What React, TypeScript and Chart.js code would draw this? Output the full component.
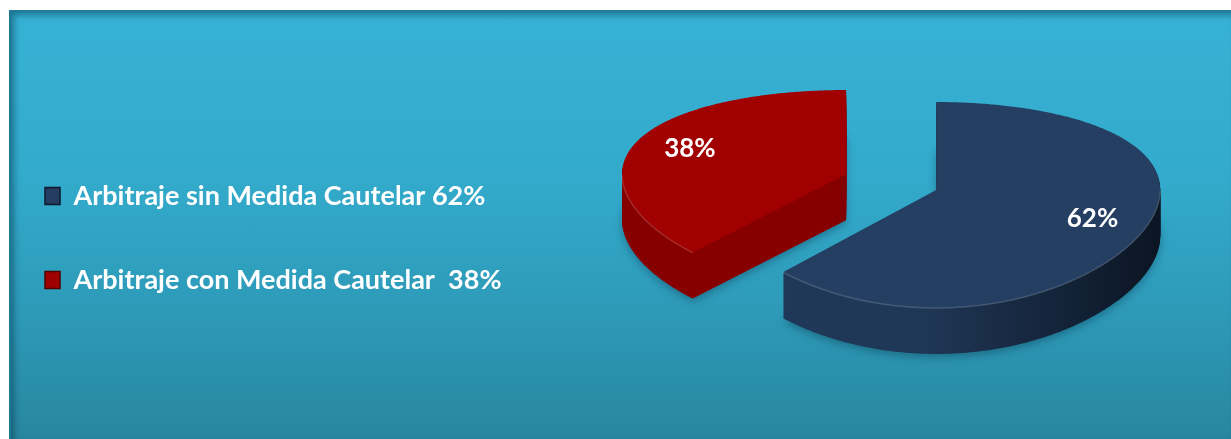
import React, { useEffect, useRef } from 'react';
import { Chart, registerables } from 'chart.js';

Chart.register(...registerables);

// ---- data ----
const categories = ['Arbitraje sin Medida Cautelar', 'Arbitraje con Medida Cautelar'];
const values = [62, 38];
const legendTexts = ['Arbitraje sin Medida Cautelar 62%', 'Arbitraje con Medida Cautelar  38%'];
const explode = [0, 97];

// ---- styles ----
const topColors = ['#243F62', '#A10000'];
const sideColorsA = ['#203858', '#860000'];
const sideColorsB = ['#0B1523', '#620000'];
const markerFill = ['#243D60', '#A00000'];
const markerStroke = ['#0E1A2C', '#520000'];

const W = 1222;
const H = 429;
const CANVAS_W = 1352;
const RADIUS = 224;
const TILT = 0.45; // vertical squash of the pie plane
const PERSP = 0.1456; // perspective strength
const DEPTH = 46;

function project(x0: number, y0: number, R: number, u: number, v: number) {
  const nv = v / R;
  return [x0 + u, y0 + (R * TILT * nv) / (1 - PERSP * nv)];
}

function slicePath(
  ctx: CanvasRenderingContext2D,
  x0: number,
  y0: number,
  R: number,
  ox: number,
  oy: number,
  s: number,
  e: number,
  withCenter: boolean,
  frontOnly = false
) {
  ctx.beginPath();
  if (withCenter) {
    const [cx, cy] = project(x0, y0, R, ox, oy);
    ctx.moveTo(cx, cy);
  }
  const n = Math.max(2, Math.ceil((e - s) / 0.01));
  let penDown = withCenter;
  for (let k = 0; k <= n; k++) {
    const t = s + ((e - s) * k) / n;
    const [px, py] = project(x0, y0, R, ox + R * Math.cos(t), oy + R * Math.sin(t));
    if (frontOnly && Math.sin(t) <= 0) {
      penDown = false;
      continue;
    }
    if (penDown) ctx.lineTo(px, py);
    else ctx.moveTo(px, py);
    penDown = true;
  }
  if (withCenter) ctx.closePath();
}

const pie3d = {
  id: 'pie3d',
  beforeDatasetsDraw(chart: any) {
    const ctx: CanvasRenderingContext2D = chart.ctx;
    const meta = chart.getDatasetMeta(0);
    const total = values.reduce((a, b) => a + b, 0);
    const items = meta.data.map((arc: any, i: number) => {
      const p = arc.getProps(['x', 'y', 'startAngle', 'endAngle', 'outerRadius'], true);
      const half = (p.startAngle + p.endAngle) / 2;
      const off = explode[i] || 0;
      const ox = Math.cos(half) * off;
      const oy = Math.sin(half) * off;
      const [, cy] = project(p.x, p.y, p.outerRadius, ox, oy);
      return { i, x0: p.x, y0: p.y, R: p.outerRadius, ox, oy, cy, s: p.startAngle, e: p.endAngle, half };
    });
    const order = [...items].sort((a: any, b: any) => a.cy - b.cy);
    ctx.save();
    for (const it of order) {
      const left = it.x0 + it.ox - it.R;
      const grad = ctx.createLinearGradient(left, 0, left + 2 * it.R, 0);
      grad.addColorStop(0, sideColorsA[it.i]);
      grad.addColorStop(0.45, sideColorsA[it.i]);
      grad.addColorStop(1, sideColorsB[it.i]);
      for (let d = DEPTH; d >= 1; d--) {
        ctx.save();
        ctx.translate(0, d);
        if (d === DEPTH) {
          ctx.shadowColor = 'rgba(0,30,50,0.35)';
          ctx.shadowBlur = 8;
          ctx.shadowOffsetY = 3;
        }
        slicePath(ctx, it.x0, it.y0, it.R, it.ox, it.oy, it.s, it.e, true);
        ctx.fillStyle = grad;
        ctx.fill();
        ctx.restore();
      }
      slicePath(ctx, it.x0, it.y0, it.R, it.ox, it.oy, it.s, it.e, true);
      ctx.fillStyle = topColors[it.i];
      ctx.fill();
      slicePath(ctx, it.x0, it.y0, it.R, it.ox, it.oy, it.s, it.e, false, true);
      ctx.strokeStyle = 'rgba(255,255,255,0.16)';
      ctx.lineWidth = 1.5;
      ctx.stroke();
    }
    // data labels
    ctx.font = 'bold 26px Lato';
    ctx.fillStyle = '#ffffff';
    ctx.textAlign = 'center';
    ctx.textBaseline = 'middle';
    for (const it of items) {
      const rho = it.R * 0.75;
      const [lx, ly] = project(
        it.x0,
        it.y0,
        it.R,
        it.ox + Math.cos(it.half) * rho,
        it.oy + Math.sin(it.half) * rho
      );
      const pct = Math.round((values[it.i] / total) * 100) + '%';
      ctx.fillText(pct, lx, ly);
    }
    ctx.restore();
    return false;
  },
};

export default function App() {
  const ref = useRef<HTMLCanvasElement>(null);
  useEffect(() => {
    const canvas = ref.current;
    if (!canvas) return;
    const chart = new Chart(canvas, {
      type: 'pie',
      data: {
        labels: categories,
        datasets: [
          {
            data: values,
            backgroundColor: topColors,
            borderWidth: 0,
          },
        ],
      },
      options: {
        responsive: false,
        animation: false,
        events: [],
        radius: RADIUS,
        layout: { padding: { left: -21, top: 0, bottom: 69, right: 0 } },
        plugins: {
          tooltip: { enabled: false },
          legend: {
            display: true,
            position: 'left',
            title: {
              display: true,
              text: '',
              padding: { top: 43, bottom: 43 },
              font: { size: 10, lineHeight: 1 },
            },
            labels: {
              boxWidth: 15,
              boxHeight: 17,
              padding: 57,
              color: '#ffffff',
              font: { family: 'Lato', weight: 'bold', size: 27 },
              generateLabels: () =>
                legendTexts.map((text, i) => ({
                  text,
                  fillStyle: markerFill[i],
                  strokeStyle: markerStroke[i],
                  lineWidth: 1.5,
                  fontColor: '#ffffff',
                  hidden: false,
                  index: i,
                  datasetIndex: 0,
                })),
            },
          },
        },
      } as any,
      plugins: [pie3d as any],
    });
    return () => chart.destroy();
  }, []);

  return (
    <div
      style={{
        position: 'absolute',
        left: 9,
        top: 10,
        width: W,
        height: H,
        overflow: 'hidden',
        background: 'linear-gradient(to bottom, #36B2D6 0%, #33AACB 40%, #2D99B7 72%, #28869F 100%)',
        boxShadow: 'inset 2px 1px 0 #1E7A94, inset 5px 5px 6px rgba(0,45,65,0.45)',
      }}
    >
      <canvas
        ref={ref}
        width={CANVAS_W}
        height={H}
        style={{ display: 'block', width: CANVAS_W, height: H }}
      />
    </div>
  );
}
